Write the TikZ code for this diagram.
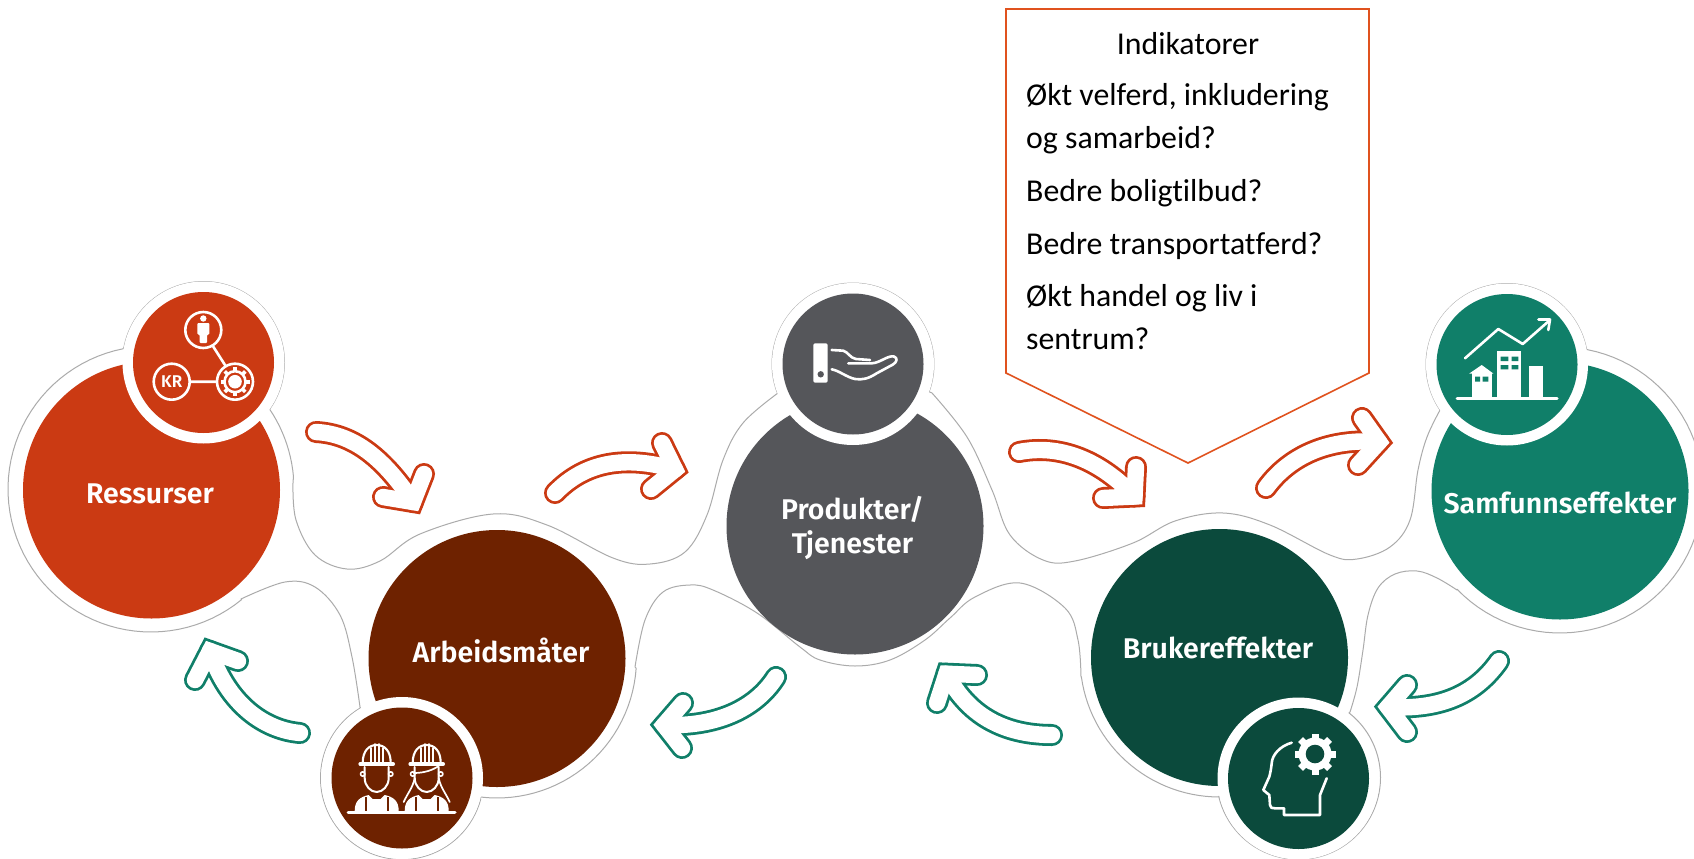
\documentclass[tikz,border=0pt]{standalone}
\usepackage{fontspec}
\setmainfont[Ligatures=NoCommon]{Carlito}
\newfontfamily\labfont{Fira Sans SemiBold}
\definecolor{cres}{HTML}{CB3A13}
\definecolor{carb}{HTML}{6E2200}
\definecolor{cpro}{HTML}{55565A}
\definecolor{cbru}{HTML}{0B4A3C}
\definecolor{csam}{HTML}{107F69}
\definecolor{cline}{HTML}{E0521E}
\definecolor{cout}{HTML}{ABABAB}
\tikzset{
  bigdisc/.style={circle,inner sep=0pt,minimum size=257pt,draw=none},
  smalldisc/.style={circle,inner sep=0pt,minimum size=141pt,draw=none},
  halo/.style={circle,inner sep=0pt,minimum size=162pt,fill=white,draw=none},
  lab/.style={text=white,font=\labfont\fontsize{28.5}{34}\selectfont,align=center,inner sep=0pt},
  calltext/.style={text=black,font=\fontsize{31.8}{34}\selectfont,anchor=base west,inner sep=0pt},
  ico/.style={draw=white,line width=2.6pt,line cap=round,line join=round}
}
% hollow arrow: colour, body path, head path
\newcommand\hollowarrow[3]{%
  \draw[#1,line width=22pt,line cap=round,line join=miter,miter limit=10] #2;
  \draw[#1,line width=22pt,line cap=round,line join=miter,miter limit=10] #3;
  \draw[white,line width=16.4pt,line cap=round,line join=miter,miter limit=10] #2;
  \draw[white,line width=16.4pt,line cap=round,line join=miter,miter limit=10] #3;
}
\newcommand\workerbase{%
  \draw[ico,line width=2.1pt] (-14,-15) .. controls (-14,-27) and (-8,-33) .. (0,-33) .. controls (8,-33) and (14,-27) .. (14,-15);
  \draw[ico,line width=1.8pt] (-6,-15) -- (-6,-30) (6,-15) -- (6,-30);
  \draw[ico,line width=2pt] (-2,-16) -- (-2,-34) (2,-16) -- (2,-34);
  \draw[ico,line width=3.6pt] (-16.5,-14) -- (16.5,-14);
  \draw[ico,line width=2pt] (-12,-11) -- (-12,0) .. controls (-12,8) and (-6,14) .. (0,14) .. controls (6,14) and (12,8) .. (12,0) -- (12,-11);
  \draw[ico,line width=1.6pt] (-14,-4) circle (2.2) (14,-4) circle (2.2);
  \fill[white] (-22,33) .. controls (-22,23) and (-17,19) .. (-8,17) -- (-4,21) -- (4,21) -- (8,17) .. controls (17,19) and (22,23) .. (22,33) -- cycle;
  \draw[carb,line width=1.6pt] (-11,19) -- (-11,33) (11,19) -- (11,33);
}
\begin{document}
\begin{tikzpicture}[x=1pt,y=1pt,yscale=-1]
\useasboundingbox (0,0) rectangle (1694,859);
\fill[white] (0,0) rectangle (1694,859);

% common outline
\draw[cout,line width=1pt,fill=white,line join=round]
  plot[domain=191:394.7,samples=60,variable=\t] ({203.5+81*cos(\t)},{362.5+81*sin(\t)})
  -- plot[domain=-34:-5,samples=12,variable=\t] ({151+143*cos(\t)},{489+143*sin(\t)})
  -- plot[smooth,tension=.6] coordinates {(293,483) (296,520) (315,555) (347,569) (380,561) (420,534) (493,514) (547,525) (613,558) (650,564) (685,552) (707,515) (723,460) (743,423) (778,393)}
  -- plot[domain=159:380,samples=60,variable=\t] ({853+81*cos(\t)},{364+81*sin(\t)})
  -- plot[smooth,tension=.6] coordinates {(932,393) (967,437) (992,490) (1010,535) (1043,560) (1075,561) (1133,543) (1175,521) (1223,513) (1270,525) (1330,555) (1357,559) (1390,547) (1410,520) (1418,470) (1427,437) (1440,410)}
  -- plot[domain=146:349,samples=60,variable=\t] ({1507+81*cos(\t)},{364.5+81*sin(\t)})
  -- plot[domain=-79:136,samples=60,variable=\t] ({1560+143*cos(\t)},{490+143*sin(\t)})
  -- plot[smooth,tension=.6] coordinates {(1457,590) (1437,578) (1417,571) (1395,574) (1378,588) (1368,615) (1363,650) (1357,687) (1350,712)}
  -- plot[domain=-52:166.7,samples=60,variable=\t] ({1298.5+82*cos(\t)},{777.5+82*sin(\t)})
  -- plot[domain=90:172,samples=30,variable=\t] ({1219.5+139.5*cos(\t)},{657.5+139.5*sin(\t)})
  -- plot[smooth,tension=.6] coordinates {(1081,677) (1078,640) (1065,608) (1020,583) (975,597) (950,618) (925,640) (890,660) (855,666) (820,660) (800,647) (757,613) (713,590) (690,585) (663,592) (645,620) (635,667)}
  -- plot[domain=4:97,samples=30,variable=\t] ({497+139.5*cos(\t)},{658.5+139.5*sin(\t)})
  -- plot[domain=15:239.4,samples=60,variable=\t] ({402+81.5*cos(\t)},{778+81.5*sin(\t)})
  -- plot[smooth,tension=.6] coordinates {(360,707) (352,657) (340,615) (315,587) (285,582) (241,599)}
  -- plot[domain=50.7:258.8,samples=60,variable=\t] ({151+143*cos(\t)},{489+143*sin(\t)})
  -- cycle;

% big discs
\node[bigdisc,fill=cres] (resB) at (151.5,490) {};
\node[bigdisc,fill=carb] (arbB) at (497,658.5) {};
\node[bigdisc,fill=cpro] (proB) at (855,526) {};
\node[bigdisc,fill=cbru] (bruB) at (1219.5,657.5) {};
\node[bigdisc,fill=csam] (samB) at (1560,491) {};

% white rings and small discs
\node[halo] (resH) at (203.5,362.5) {};
\node[halo] (arbH) at (402,778) {};
\node[halo] (proH) at (853,364) {};
\node[halo] (bruH) at (1298.5,778.5) {};
\node[halo] (samH) at (1507,364.5) {};
\node[smalldisc,fill=cres] (resS) at (resH) {};
\node[smalldisc,fill=carb] (arbS) at (arbH) {};
\node[smalldisc,fill=cpro] (proS) at (proH) {};
\node[smalldisc,fill=cbru] (bruS) at (bruH) {};
\node[smalldisc,fill=csam] (samS) at (samH) {};

% labels
\node[lab] (resT) at (150,494) {Ressurser};
\node[lab] (arbT) at (501,650) {Arbeidsmåter};
\node[lab] (proT) at (852.5,528) {Produkter/\\Tjenester};
\node[lab] (bruT) at (1218,648) {Brukereffekter};
\node[lab] (samT) at (1560,503) {Samfunnseffekter};

% callout
\draw[cline,line width=1.6pt,line join=miter,fill=white] (1006,9) -- (1369,9) -- (1369,373) -- (1188,463) -- (1006,373) -- cycle;
\node[calltext,anchor=base] (c0) at (1188,55) {Indikatorer};
\node[calltext] (c1) at (1026,105) {Økt velferd, inkludering};
\node[calltext] (c2) at (1026,148) {og samarbeid?};
\node[calltext] (c3) at (1026,201) {Bedre boligtilbud?};
\node[calltext] (c4) at (1026,254) {Bedre transportatferd?};
\node[calltext] (c5) at (1026,306) {Økt handel og liv i};
\node[calltext] (c6) at (1026,349) {sentrum?};

% arrows
\hollowarrow{cres}{(316,432) .. controls (355,434) and (385,460) .. (413,502)}{(424,474) -- (413,502) -- (383,497)}
\hollowarrow{cres}{(555,493) .. controls (585,462) and (625,455) .. (675,469.5)}{(662,443) -- (675,469.5) -- (651,489)}
\hollowarrow{cres}{(1019,452) .. controls (1060,444) and (1100,460) .. (1134.5,496.5)}{(1136,467) -- (1134.5,496.5) -- (1103,498)}
\hollowarrow{cres}{(1266,488) .. controls (1290,455) and (1330,438) .. (1379,442)}{(1362,418) -- (1379,442) -- (1358,465)}
\hollowarrow{csam}{(300,733) .. controls (265,730) and (228,705) .. (210,651)}{(238,661) -- (210,651) -- (195,680)}
\hollowarrow{csam}{(776,677) .. controls (755,710) and (715,727) .. (664,725)}{(683,703) -- (664,725) -- (682,748)}
\hollowarrow{csam}{(1052,735) .. controls (1010,735) and (970,720) .. (946.5,673.7)}{(977,675) -- (946.5,673.7) -- (937,703)}
\hollowarrow{csam}{(1499,661) .. controls (1475,695) and (1440,710) .. (1388,707)}{(1407,685) -- (1388,707) -- (1407,732)}

% icon: resources
\draw[ico] (203.3,330) circle (18) (171.7,381.7) circle (18) (235,381.7) circle (18);
\draw[ico] (190,381.7) -- (216.7,381.7) (213.3,346.7) -- (225,365);
\fill[white] (203.3,318.5) circle (3.2);
\fill[white,rounded corners=1pt] (197.3,323) -- (209.3,323) -- (209.3,334.5) -- (207,334.5) -- (207,343) -- (199.6,343) -- (199.6,334.5) -- (197.3,334.5) -- cycle;
\draw[white,line width=2.6pt] (235,381.7) circle (10.5);
\fill[white] (235,381.7) circle (6.8);
\foreach \a in {0,45,...,315}{\draw[white,line width=3.6pt] ({235+10*cos(\a)},{381.7+10*sin(\a)}) -- ({235+14.5*cos(\a)},{381.7+14.5*sin(\a)});}
\node[text=white,font=\labfont\fontsize{17}{17}\selectfont,inner sep=0pt] (kr) at (171.7,381.7) {KR};

% icon: workers
\draw[white,line width=3pt,line cap=round] (348,812) -- (455,812);
\begin{scope}[shift={(376.7,778)}]\workerbase\end{scope}
\begin{scope}[shift={(426.7,778)}]\workerbase
  \draw[ico,line width=1.7pt] (-13,-5) .. controls (-2,-5) and (6,-8) .. (12,-12);
  \draw[ico,line width=1.7pt] (-12,0) .. controls (-14,10) and (-19,15) .. (-23,24);
  \draw[ico,line width=1.7pt] (12,0) .. controls (14,10) and (19,15) .. (23,24);
\end{scope}

% icon: hand
\fill[white,rounded corners=2pt] (813.3,343.3) rectangle (827.7,382.7);
\fill[cpro] (820.7,374.3) circle (3.2);
\draw[ico] (831.7,350) -- (843.3,350.7) .. controls (848,352) and (850,358) .. (856,359) -- (870,360);
\draw[ico] (848.3,363.3) -- (871.7,363.3) .. controls (880,363) and (888,355) .. (894,356.5) .. controls (898,358) and (897,362) .. (893,364.5) -- (876.7,373.3) .. controls (868,379) and (862,380) .. (855,379) .. controls (846,377) and (840,371) .. (831.7,369.3);

% icon: head with gear
\draw[ico] (1291.7,742.7) .. controls (1280,746) and (1272,755) .. (1271.7,763.3) .. controls (1271,770) and (1270,774) .. (1269.3,776.7) -- (1263.3,790) -- (1269.3,795) -- (1270,805) .. controls (1270,808) and (1272,808.3) .. (1275,808.3) -- (1284,808.3) -- (1284,815) -- (1320,815) -- (1320,795) -- (1326.7,778.3);
\fill[white] (1315,754) circle (16.5);
\foreach \a in {0,45,...,315}{\draw[white,line width=7pt] ({1315+14*cos(\a)},{754+14*sin(\a)}) -- ({1315+20.5*cos(\a)},{754+20.5*sin(\a)});}
\fill[cbru] (1315,754) circle (9.3);

% icon: chart
\draw[ico,line width=3pt] (1457,398.3) -- (1557,398.3);
\draw[ico,line width=2.6pt] (1465,358.3) -- (1498.3,329) -- (1522.7,344) -- (1550,320);
\draw[ico,line width=2.6pt] (1538.3,319.5) -- (1550,319.5) -- (1548.3,330);
\fill[white] (1497.3,350.7) rectangle (1520.7,397);
\fill[white] (1529.3,366) rectangle (1543.3,397);
\fill[white] (1471.7,373) rectangle (1491.7,397);
\fill[white] (1469.3,373.5) -- (1481.7,365) -- (1493.3,373.5) -- cycle;
\fill[csam] (1500.7,356.7) rectangle (1508.3,361) (1511.7,356.7) rectangle (1518.3,361) (1500.7,365) rectangle (1508.3,369.3) (1511.7,365) rectangle (1518.3,369.3);
\fill[csam] (1475,376.7) rectangle (1480,381.7) (1482.7,376.7) rectangle (1488.3,381.7);
\end{tikzpicture}
\end{document}
